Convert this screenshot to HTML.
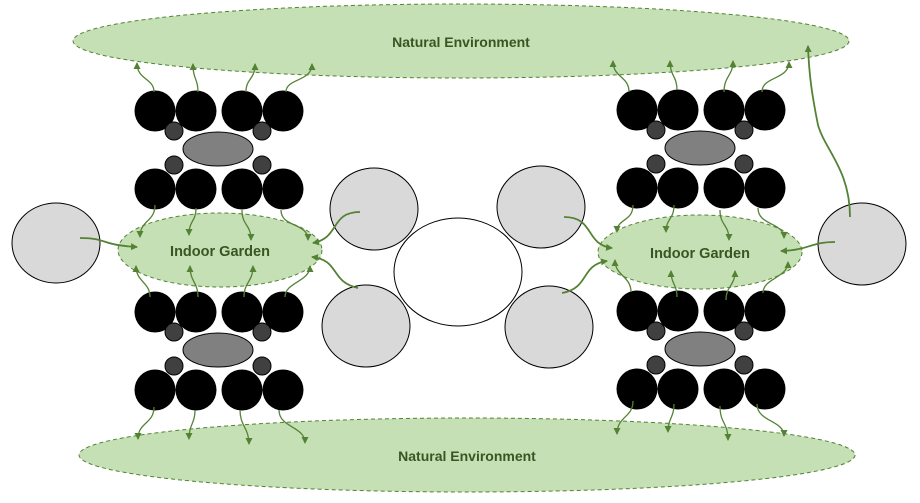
<!DOCTYPE html>
<html><head><meta charset="utf-8"><style>html,body{margin:0;padding:0;background:#fff}svg{display:block}</style></head>
<body>
<svg width="920" height="503" viewBox="0 0 920 503" xmlns="http://www.w3.org/2000/svg">
<defs>
<marker id="a" markerWidth="8" markerHeight="8" refX="6" refY="4" orient="auto" markerUnits="userSpaceOnUse"><path d="M0,0.5 L7,4 L0,7.5 z" fill="#548235"/></marker>
</defs>
<ellipse cx="461" cy="41" rx="388" ry="37" fill="#c5e0b4" stroke="#548235" stroke-width="1" stroke-dasharray="4,3"/>
<ellipse cx="467" cy="455" rx="388" ry="37" fill="#c5e0b4" stroke="#548235" stroke-width="1" stroke-dasharray="4,3"/>
<text x="461" y="47" text-anchor="middle" font-family="Liberation Sans, sans-serif" font-weight="bold" font-size="14" fill="#375623">Natural Environment</text>
<text x="467" y="461" text-anchor="middle" font-family="Liberation Sans, sans-serif" font-weight="bold" font-size="14" fill="#375623">Natural Environment</text>

<g fill="#d9d9d9" stroke="#000" stroke-width="1">
<ellipse cx="56" cy="243" rx="44" ry="40"/>
<ellipse cx="374" cy="209" rx="44" ry="41"/>
<ellipse cx="366" cy="326" rx="44" ry="41"/>
<ellipse cx="541" cy="207" rx="44" ry="41"/>
<ellipse cx="549" cy="327" rx="44" ry="41"/>
<ellipse cx="862" cy="244" rx="44" ry="41"/>
</g>
<ellipse cx="458" cy="272" rx="64" ry="54" fill="#fff" stroke="#000" stroke-width="1"/>

<ellipse cx="220" cy="250" rx="102" ry="37" fill="#c5e0b4" stroke="#548235" stroke-width="1" stroke-dasharray="4,3"/>
<ellipse cx="700" cy="252" rx="102" ry="37" fill="#c5e0b4" stroke="#548235" stroke-width="1" stroke-dasharray="4,3"/>
<text x="220" y="256" text-anchor="middle" font-family="Liberation Sans, sans-serif" font-weight="bold" font-size="14.5" fill="#375623">Indoor Garden</text>
<text x="700" y="258" text-anchor="middle" font-family="Liberation Sans, sans-serif" font-weight="bold" font-size="14.5" fill="#375623">Indoor Garden</text>

<g id="cl">
<g fill="#000">
<circle cx="155" cy="111" r="20.5"/><circle cx="196" cy="111" r="20.5"/><circle cx="242" cy="111" r="20.5"/><circle cx="283" cy="111" r="20.5"/>
<circle cx="155" cy="189" r="20.5"/><circle cx="196" cy="189" r="20.5"/><circle cx="242" cy="189" r="20.5"/><circle cx="283" cy="189" r="20.5"/>
</g>
<g fill="#404040" stroke="#000" stroke-width="1">
<circle cx="174" cy="131" r="9"/><circle cx="262" cy="131" r="9"/><circle cx="174" cy="165" r="9"/><circle cx="262" cy="165" r="9"/>
</g>
<ellipse cx="218" cy="149" rx="35" ry="17" fill="#808080" stroke="#000" stroke-width="1"/>
</g>
<use href="#cl" transform="translate(0,201)"/>
<use href="#cl" transform="translate(482,-1)"/>
<use href="#cl" transform="translate(482,200)"/>

<g fill="none" stroke="#548235" stroke-width="1.3" marker-end="url(#a)">
<path d="M154,92 C154,78 137,80 137,63"/>
<path d="M198,92 C198,78 193,80 193,64"/>
<path d="M246,92 C246,78 255,80 255,64"/>
<path d="M286,92 C286,78 312,82 312,64"/>
<path d="M155,205 C155,222 140,220 140,237"/>
<path d="M196,208 C196,222 189,220 189,235"/>
<path d="M242,210 C242,226 251,224 251,240"/>
<path d="M281,210 C281,228 308,222 308,240"/>
<path d="M150,297 C150,282 136,282 136,266"/>
<path d="M198,297 C198,282 190,282 190,266"/>
<path d="M244,297 C244,282 253,282 253,266"/>
<path d="M285,297 C285,282 310,282 310,266"/>
<path d="M154,407 C154,424 138,422 138,439"/>
<path d="M195,410 C195,424 189,424 189,439"/>
<path d="M240,410 C240,426 249,428 249,444"/>
<path d="M279,410 C279,428 305,426 305,443"/>

<path d="M629,92 C629,76 613,78 613,61"/>
<path d="M677,90 C677,76 670,76 670,61"/>
<path d="M724,92 C724,76 733,76 733,61"/>
<path d="M762,92 C762,76 789,80 789,62"/>
<path d="M633,205 C633,222 617,218 617,232"/>
<path d="M674,205 C674,220 666,218 666,232"/>
<path d="M720,210 C720,226 729,224 729,240"/>
<path d="M758,208 C758,226 784,222 784,238"/>
<path d="M631,292 C631,276 615,276 615,260"/>
<path d="M677,297 C677,284 671,284 671,271"/>
<path d="M726,300 C726,286 735,286 735,271"/>
<path d="M763,293 C763,278 788,278 788,262"/>
<path d="M633,401 C633,418 617,416 617,434"/>
<path d="M674,404 C674,418 668,418 668,432"/>
<path d="M720,406 C720,424 728,422 728,440"/>
<path d="M757,404 C757,422 784,420 784,436"/>
</g>
<g fill="none" stroke="#548235" stroke-width="1.8" marker-end="url(#a)">
<path d="M80,238 C108,238 100,245 137,247"/>
<path d="M360,212 C330,212 340,238 313,243"/>
<path d="M358,288 C330,282 340,260 312,257"/>
<path d="M850,217 C850,170 825,150 818,125 C812,95 809,75 808,46"/>
<path d="M564,217 C595,217 585,245 612,248"/>
<path d="M562,293 C590,288 580,265 607,261"/>
<path d="M835,242 C810,242 810,250 781,251"/>
</g>
</svg>
</body></html>
